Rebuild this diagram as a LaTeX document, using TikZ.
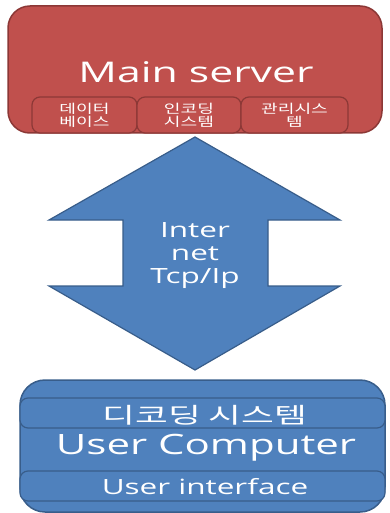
\documentclass[tikz,border=0pt]{standalone}
\usepackage{fontspec}
\setmainfont{Open Sans}[FakeStretch=1.5]
\newfontfamily\kr{Noto Sans CJK KR}[FakeStretch=1.45]
\newfontfamily\krwide{Noto Sans CJK KR}[FakeStretch=1.62]
\definecolor{srvfill}{HTML}{C0504D}
\definecolor{srvline}{HTML}{8C3836}
\definecolor{netfill}{HTML}{4F81BD}
\definecolor{netline}{HTML}{385D8A}
\tikzset{
  server/.style={draw=srvline, line width=1.5pt, fill=srvfill, rounded corners=22pt, inner sep=0pt},
  srvpart/.style={draw=srvline, line width=1.2pt, fill=srvfill, rounded corners=8pt, inner sep=0pt,
    minimum height=36pt, text=white, align=center, font=\kr\fontsize{12.5}{13}\selectfont},
  client/.style={draw=netline, line width=1.5pt, fill=netfill, rounded corners=25pt, inner sep=0pt},
  strip/.style={draw=netline, line width=1.2pt, fill=netfill, rounded corners=8pt, inner sep=0pt,
    minimum width=365pt, minimum height=30pt},
  label/.style={text=white, inner sep=0pt, align=center}
}
\begin{document}
\begin{tikzpicture}[x=1pt,y=-1pt]
\useasboundingbox (0,0) rectangle (389,513);

% main server block
\node[server, minimum width=374pt, minimum height=127pt] (srv) at (195,69.5) {};
\node[label, font=\fontsize{28.5}{28}\selectfont] (srvname) at (196,72) {Main server};
\node[srvpart, minimum width=105pt] (db) at (84.5,115) {데이터\\베이스};
\node[srvpart, minimum width=104pt] (enc) at (189,115) {인코딩\\시스템};
\node[srvpart, minimum width=107pt] (mgmt) at (294.5,115) {관리시스\\템};

% two-headed network arrow
\draw[draw=netline, line width=1.2pt, fill=netfill, line join=miter]
  (195,137) -- (340,220) -- (268,220) -- (268,286) -- (340,286) -- (195,370)
  -- (49,286) -- (123,286) -- (123,220) -- (49,220) -- cycle;
\node[label, font=\fontsize{21}{23}\selectfont] (net) at (195,256) {Inter\\net\\Tcp/Ip};

% user computer block
\node[client, minimum width=365pt, minimum height=132pt] (pc) at (202.5,446) {};
\node[strip] (dec) at (202.5,413) {};
\node[strip] (ui) at (202.5,486) {};
\node[label, font=\krwide\fontsize{22}{22}\selectfont] (decname) at (205,415) {디코딩 시스템};
\node[label, font=\fontsize{28}{26}\selectfont] (pcname) at (206,448) {User Computer};
\node[label, font=\fontsize{21}{20}\selectfont] (uiname) at (205,487) {User interface};
\end{tikzpicture}
\end{document}
